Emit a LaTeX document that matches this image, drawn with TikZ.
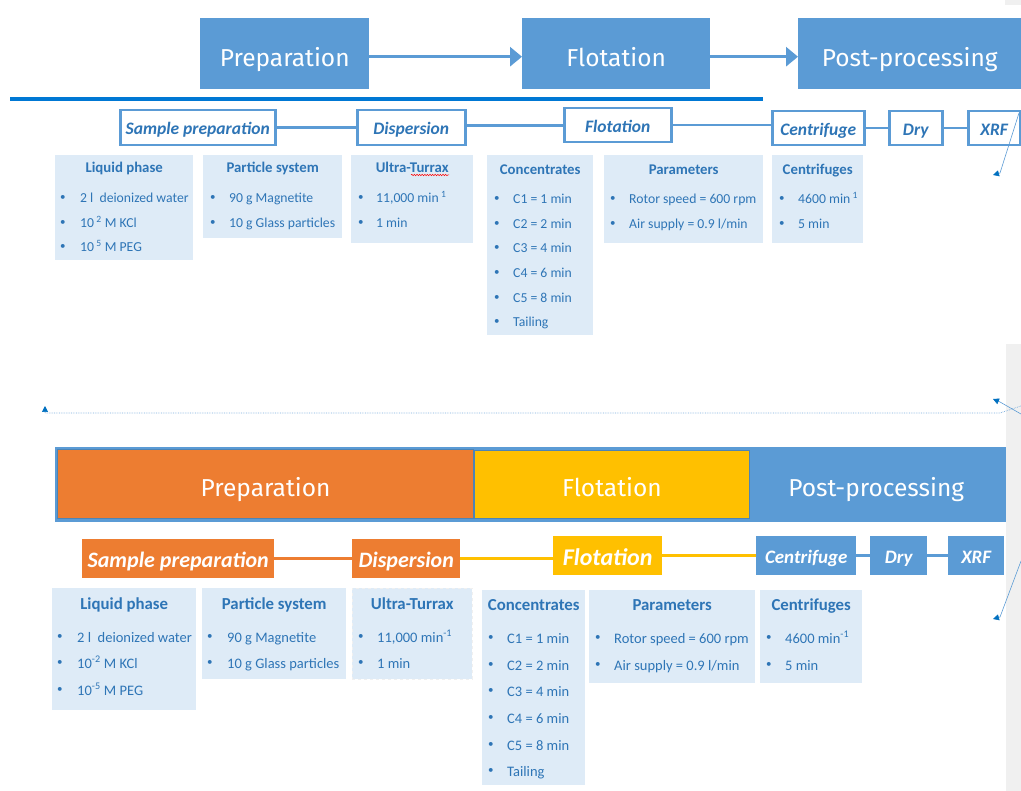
\documentclass[tikz,border=0pt]{standalone}
\usepackage{fontspec}
\setmainfont{Carlito}
\newfontfamily\dinfont{Fira Sans}
\usetikzlibrary{arrows.meta,decorations.pathmorphing}
\definecolor{mblue}{HTML}{5B9BD5}
\definecolor{dblue}{HTML}{0078D4}
\definecolor{tblue}{HTML}{2E75B6}
\definecolor{pfill}{HTML}{DEEBF7}
\definecolor{morange}{HTML}{ED7D31}
\definecolor{myellow}{HTML}{FFC000}
\definecolor{sgray}{HTML}{F0F0F0}
\definecolor{abl}{HTML}{0070C0}
\tikzset{
  bigbox/.style={fill=mblue, draw=none, text=white, font=\dinfont\fontsize{24.5}{28}\selectfont, inner sep=0pt, anchor=north west, text height=25pt, text depth=0pt},
  bigarrow/.style={draw=mblue, line width=3.5pt, -{Triangle[length=12pt,width=19pt]}},
  subtop/.style={draw=mblue, line width=2.5pt, fill=white, text=tblue, font=\bfseries\itshape\fontsize{17.5}{20}\selectfont, inner sep=0pt, anchor=north west, text height=14pt, text depth=0pt},
  subbot/.style={draw=none, text=white, font=\bfseries\itshape\fontsize{22}{24}\selectfont, inner sep=0pt, anchor=north west, text height=18pt, text depth=0pt},
  subbots/.style={subbot, font=\bfseries\itshape\fontsize{19}{22}\selectfont, text height=16pt},
  tline/.style={draw=mblue, line width=2.5pt},
  panel/.style={fill=pfill, draw=none, inner sep=0pt, anchor=north west},
  phtop/.style={text=tblue, font=\bfseries\fontsize{14.8}{17}\selectfont, inner sep=0pt, text height=10pt, text depth=0pt},
  phbot/.style={text=tblue, font=\bfseries\fontsize{16.8}{19}\selectfont, inner sep=0pt, text height=11pt, text depth=0pt},
  ittop/.style={text=tblue, font=\fontsize{13.7}{15}\selectfont, inner sep=0pt, anchor=west, text height=9.5pt, text depth=0pt},
  itbot/.style={text=tblue, font=\fontsize{14.5}{16}\selectfont, inner sep=0pt, anchor=west, text height=10pt, text depth=0pt},
  bul/.style={text=tblue, font=\fontsize{11}{12}\selectfont, inner sep=0pt, anchor=west, text height=5pt, text depth=0pt},
  thinarrow/.style={draw=mblue, line width=0.6pt, arrows={-{Triangle[length=6pt,width=6pt,color=abl]}}},
  dotline/.style={draw=mblue!80, line width=0.7pt, densely dotted},
}
\begin{document}
\begin{tikzpicture}[x=1pt,y=-1pt]
\useasboundingbox (0,0) rectangle (1021,791);
\fill[white] (0,0) rectangle (1021,791);
\fill[sgray] (1005,0) rectangle (1021,5);
\fill[sgray] (1006,344) rectangle (1021,791);

% ---------- top half ----------
\node[bigbox, minimum width=169pt, minimum height=71pt] (tprep) at (200,18) {Preparation};
\node[bigbox, minimum width=188pt, minimum height=71pt] (tflot) at (522,18) {Flotation};
\node[bigbox, minimum width=223pt, minimum height=71pt] (tpost) at (798,18) {Post-processing};
\draw[bigarrow] ([yshift=-3pt]tprep.east) -- ([yshift=-3pt]tflot.west);
\draw[bigarrow] ([yshift=-3pt]tflot.east) -- ([yshift=-3pt]tpost.west);

\draw[dblue, line width=4pt] (10,99) -- (763,99);

\node[subtop, minimum width=155pt, minimum height=35pt] (tsp) at (119,109) {Sample preparation};
\node[subtop, minimum width=108pt, minimum height=35pt] (tdis) at (356,109) {Dispersion};
\node[subtop, minimum width=107pt, minimum height=34pt] (tfl) at (563,107) {Flotation};
\node[subtop, minimum width=92pt, minimum height=34pt] (tcen) at (771,110) {Centrifuge};
\node[subtop, minimum width=53pt, minimum height=34pt] (tdry) at (888,110) {Dry};
\node[subtop, minimum width=52pt, minimum height=34pt] (txrf) at (967,110) {XRF};
\draw[tline] (tsp.east) -- (tdis.west);
\draw[tline] ([yshift=2pt]tdis.east) -- ([yshift=2pt]tdis.east -| tfl.west);
\draw[tline] (tfl.east) -- (tfl.east -| tcen.west);
\draw[tline] (tcen.east) -- (tdry.west);
\draw[tline] (tdry.east) -- (txrf.west);

% panels top
\node[panel, minimum width=138pt, minimum height=105pt] (tliq) at (55,155) {};
\node[panel, minimum width=139pt, minimum height=83pt] (tpar) at (203,155) {};
\node[panel, minimum width=122pt, minimum height=88pt] (tult) at (351,155) {};
\node[panel, minimum width=106pt, minimum height=180pt] (tcon) at (487,155) {};
\node[panel, minimum width=159pt, minimum height=88pt] (tprm) at (604,155) {};
\node[panel, minimum width=91pt, minimum height=88pt] (tcfs) at (772,155) {};

\node[phtop] (tliqh) at (tliq.north |- 0,168) {Liquid phase};
\node[phtop] (tparh) at (tpar.north |- 0,168) {Particle system};
\node[phtop] (tulth) at (tult.north |- 0,168) {Ultra-Turrax};
\node[phtop] (tconh) at (tcon.north |- 0,170) {Concentrates};
\node[phtop] (tprmh) at (tprm.north |- 0,170) {Parameters};
\node[phtop] (tcfsh) at (tcfs.north |- 0,170) {Centrifuges};
\draw[red, line width=0.5pt, decorate, decoration={snake, amplitude=0.7pt, segment length=2.6pt}] (411,175) -- (449,175);

\foreach \y/\t [count=\i] in {198/{2 l~ deionized water}, 223/{10\,\textsuperscript{2} M KCl}, 247/{10\,\textsuperscript{5} M PEG}}
  {\node[bul] (tliqb\i) at (60,\y) {•}; \node[ittop] (tliqi\i) at (80,\y) {\t};}
\foreach \y/\t [count=\i] in {198/{90 g Magnetite}, 223/{10 g Glass particles}}
  {\node[bul] (tparb\i) at (210,\y) {•}; \node[ittop] (tpari\i) at (229,\y) {\t};}
\foreach \y/\t [count=\i] in {198/{11,000 min\,\textsuperscript{1}}, 223/{1 min}}
  {\node[bul] (tultb\i) at (358,\y) {•}; \node[ittop] (tulti\i) at (376,\y) {\t};}
\foreach \y/\t [count=\i] in {199/{C1 = 1 min}, 224/{C2 = 2 min}, 248/{C3 = 4 min}, 273/{C4 = 6 min}, 298/{C5 = 8 min}, 322/{Tailing}}
  {\node[bul] (tconb\i) at (494,\y) {•}; \node[ittop] (tconi\i) at (513,\y) {\t};}
\foreach \y/\t [count=\i] in {199/{Rotor speed = 600 rpm}, 224/{Air supply = 0.9 l/min}}
  {\node[bul] (tprmb\i) at (610,\y) {•}; \node[ittop] (tprmi\i) at (629,\y) {\t};}
\foreach \y/\t [count=\i] in {199/{4600 min\,\textsuperscript{1}}, 224/{5 min}}
  {\node[bul] (tcfsb\i) at (779,\y) {•}; \node[ittop] (tcfsi\i) at (798,\y) {\t};}

\coordinate (xa) at (1019,113);
\coordinate (xb) at (1000,173);
\coordinate (xc) at (993,175);
\draw[thinarrow] (xa) -- (xb) -- (xc);

% ---------- middle connectors ----------
\coordinate (m1) at (1021,406);
\coordinate (m2) at (1000,413);
\coordinate (m3) at (45,413);
\coordinate (m4) at (45,406);
\draw[dotline, arrows={-{Triangle[length=6pt,width=6pt,color=abl]}}] (m1) -- (m2) -- (m3) -- (m4);
\coordinate (n1) at (1021,414);
\coordinate (n2) at (1000,402);
\coordinate (n3) at (993,399);
\draw[thinarrow] (n1) -- (n2) -- (n3);

% ---------- bottom half ----------
\node[draw=mblue, fill=mblue, line width=2pt, minimum width=949pt, minimum height=73pt, inner sep=0pt, anchor=north west] (bar) at (55,447) {};
\node[bigbox, fill=morange, draw=mblue!85!black, line width=1pt, minimum width=416pt, minimum height=69pt] (bprep) at (57,449) {Preparation};
\node[bigbox, fill=myellow, draw=mblue!85!black, line width=0.8pt, minimum width=275pt, minimum height=68pt] (bflot) at (474,450) {Flotation};
\node[bigbox, fill=none, minimum width=254pt, minimum height=69pt] (bpost) at (749,449) {Post-processing};

\node[subbot, fill=morange, minimum width=192pt, minimum height=39pt] (bsp) at (82,539) {Sample preparation};
\node[subbot, fill=morange, minimum width=108pt, minimum height=39pt] (bdis) at (352,539) {Dispersion};
\node[subbot, fill=myellow, minimum width=109pt, minimum height=39pt, font=\bfseries\itshape\fontsize{24}{26}\selectfont, text height=19pt] (bfl) at (553,536) {Flotation};
\node[subbots, fill=mblue, minimum width=100pt, minimum height=39pt] (bcen) at (756,536) {Centrifuge};
\node[subbots, fill=mblue, minimum width=57pt, minimum height=39pt] (bdry) at (870,536) {Dry};
\node[subbots, fill=mblue, minimum width=56pt, minimum height=39pt] (bxrf) at (948,536) {XRF};
\draw[draw=morange, line width=2.5pt] (bsp.east) -- (bdis.west);
\draw[draw=myellow, line width=2.5pt] (bdis.east) -- (bdis.east -| bfl.west);
\draw[draw=myellow, line width=2.5pt] (bfl.east) -- (bcen.west);
\draw[tline] (bcen.east) -- (bdry.west);
\draw[tline] (bdry.east) -- (bxrf.west);

\node[panel, minimum width=144pt, minimum height=122pt] (bliq) at (52,588) {};
\node[panel, minimum width=144pt, minimum height=91pt] (bpar) at (202,588) {};
\node[panel, draw=white!88!gray, dashed, line width=0.5pt, minimum width=120pt, minimum height=91pt] (bult) at (352,588) {};
\node[panel, minimum width=103pt, minimum height=195pt] (bcon) at (482,590) {};
\node[panel, minimum width=166pt, minimum height=93pt] (bprm) at (589,590) {};
\node[panel, minimum width=102pt, minimum height=93pt] (bcfs) at (760,590) {};

\node[phbot] (bliqh) at (bliq.north |- 0,604) {Liquid phase};
\node[phbot] (bparh) at (bpar.north |- 0,604) {Particle system};
\node[phbot] (bulth) at (bult.north |- 0,604) {Ultra-Turrax};
\node[phbot] (bconh) at (bcon.north |- 0,605) {Concentrates};
\node[phbot] (bprmh) at (bprm.north |- 0,605) {Parameters};
\node[phbot] (bcfsh) at (bcfs.north |- 0,605) {Centrifuges};

\foreach \y/\t [count=\i] in {637/{2 l~ deionized water}, 663/{10\textsuperscript{-2} M KCl}, 690/{10\textsuperscript{-5} M PEG}}
  {\node[bul] (bliqb\i) at (57,\y) {•}; \node[itbot] (bliqi\i) at (77,\y) {\t};}
\foreach \y/\t [count=\i] in {637/{90 g Magnetite}, 663/{10 g Glass particles}}
  {\node[bul] (bparb\i) at (207,\y) {•}; \node[itbot] (bpari\i) at (227,\y) {\t};}
\foreach \y/\t [count=\i] in {637/{11,000 min\textsuperscript{-1}}, 663/{1 min}}
  {\node[bul] (bultb\i) at (358,\y) {•}; \node[itbot] (bulti\i) at (377,\y) {\t};}
\foreach \y/\t [count=\i] in {638/{C1 = 1 min}, 665/{C2 = 2 min}, 691/{C3 = 4 min}, 718/{C4 = 6 min}, 745/{C5 = 8 min}, 771/{Tailing}}
  {\node[bul] (bconb\i) at (488,\y) {•}; \node[itbot] (bconi\i) at (507,\y) {\t};}
\foreach \y/\t [count=\i] in {638/{Rotor speed = 600 rpm}, 665/{Air supply = 0.9 l/min}}
  {\node[bul] (bprmb\i) at (595,\y) {•}; \node[itbot] (bprmi\i) at (614,\y) {\t};}
\foreach \y/\t [count=\i] in {638/{4600 min\textsuperscript{-1}}, 665/{5 min}}
  {\node[bul] (bcfsb\i) at (766,\y) {•}; \node[itbot] (bcfsi\i) at (785,\y) {\t};}

\coordinate (ya) at (1021,561);
\coordinate (yb) at (1000,617);
\coordinate (yc) at (993,619);
\draw[thinarrow] (ya) -- (yb) -- (yc);
\end{tikzpicture}
\end{document}
